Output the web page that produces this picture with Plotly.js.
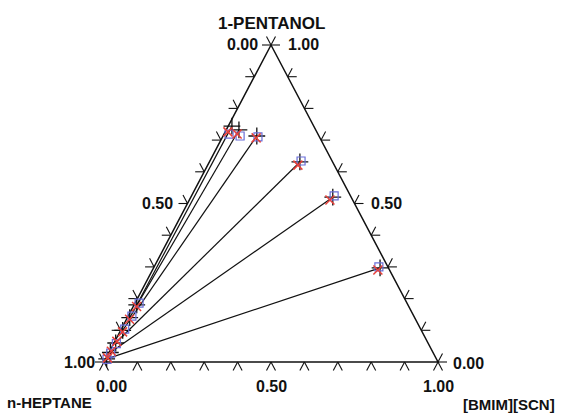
<!DOCTYPE html>
<html>
<head>
<meta charset="utf-8">
<script src="https://cdn.plot.ly/plotly-3.0.1.min.js"></script>
<style>html,body{margin:0;padding:0;background:#fff;}#chart{width:562px;height:414px;}</style>
</head>
<body>
<div id="chart"></div>
<script>
// Ternary data: mole fractions (1-pentanol = p, [BMIM][SCN] = b, n-heptane = 1-p-b)
// Experimental tie-lines (black)
const expExtractPentanol   = [0.297, 0.520, 0.631, 0.713, 0.732, 0.744];
const expExtractBmim       = [0.678, 0.425, 0.271, 0.101, 0.038, 0.011];
const expRaffinatePentanol = [0.010, 0.030, 0.060, 0.100, 0.140, 0.180];
const expRaffinateBmim     = [0.003, 0.004, 0.005, 0.006, 0.007, 0.008];
// Calculated (red, NRTL)
const nrtlExtractPentanol   = [0.290, 0.511, 0.621, 0.707, 0.719, 0.726];
const nrtlExtractBmim       = [0.675, 0.421, 0.270, 0.102, 0.039, 0.008];
const nrtlRaffinatePentanol = [0.013, 0.034, 0.065, 0.095, 0.135, 0.175];
const nrtlRaffinateBmim     = [0.004, 0.005, 0.006, 0.008, 0.009, 0.010];
// Calculated (blue, UNIQUAC)
const uniqExtractPentanol   = [0.300, 0.524, 0.634, 0.710, 0.713, 0.719];
const uniqExtractBmim       = [0.673, 0.427, 0.273, 0.106, 0.051, 0.015];
const uniqRaffinatePentanol = [0.008, 0.028, 0.058, 0.104, 0.145, 0.186];
const uniqRaffinateBmim     = [0.005, 0.006, 0.008, 0.010, 0.011, 0.012];
// Axis tick values and labels
const tickValues = [0, 0.1, 0.2, 0.3, 0.4, 0.5, 0.6, 0.7, 0.8, 0.9, 1.0];
const labelValues = ["0.00", "0.50", "1.00"];
const vertexNames = ["1-PENTANOL", "n-HEPTANE", "[BMIM][SCN]"];

// projection of ternary composition onto the plane of the triangle
const tx = (p, b) => b + 0.5 * p;
const ty = (p) => p;

const traces = [];

// triangle frame
traces.push({
  x: [tx(0,0), tx(0,1), tx(1,0), tx(0,0)],
  y: [ty(0), ty(0), ty(1), ty(0)],
  mode: 'lines', line: {color: '#111', width: 1.5}, hoverinfo: 'skip'
});

// chevron ticks
const s = 0.027;
const tkx = [], tky = [];
function stub(x0, y0, dx, dy) { tkx.push(x0, x0 + dx * s, null); tky.push(y0, y0 + dy * s, null); }
tickValues.forEach(t => {
  let bx = tx(0, t), by = ty(0);
  stub(bx, by, -0.5, -1); stub(bx, by, 0.5, -1);
  let lx = tx(1 - t, 0), ly = ty(1 - t);
  stub(lx, ly, -1, 0); stub(lx, ly, -0.5, 1);
  let rx = tx(t, 1 - t), ry = ty(t);
  stub(rx, ry, 1, 0); stub(rx, ry, 0.5, 1);
});
traces.push({x: tkx, y: tky, mode: 'lines', line: {color: '#111', width: 1.1}, hoverinfo: 'skip'});

// experimental tie-lines
const tlx = [], tly = [];
expExtractPentanol.forEach((p, i) => {
  tlx.push(tx(expRaffinatePentanol[i], expRaffinateBmim[i]), tx(p, expExtractBmim[i]), null);
  tly.push(ty(expRaffinatePentanol[i]), ty(p), null);
});
traces.push({x: tlx, y: tly, mode: 'lines', line: {color: '#111', width: 1.2}, hoverinfo: 'skip'});

function pts(pR, bR, pE, bE) {
  return {
    x: pR.map((p, i) => tx(p, bR[i])).concat(pE.map((p, i) => tx(p, bE[i]))),
    y: pR.map(p => ty(p)).concat(pE.map(p => ty(p)))
  };
}
const e = pts(expRaffinatePentanol, expRaffinateBmim, expExtractPentanol, expExtractBmim);
traces.push({x: e.x, y: e.y, mode: 'markers',
  marker: {symbol: 'cross-thin-open', size: 12, color: '#111', line: {width: 1.3, color: '#111'}}});
const u = pts(uniqRaffinatePentanol, uniqRaffinateBmim, uniqExtractPentanol, uniqExtractBmim);
traces.push({x: u.x, y: u.y, mode: 'markers',
  marker: {symbol: 'square-open', size: 8, color: '#6a6fd8', line: {width: 1.2, color: '#6a6fd8'}}});
const n = pts(nrtlRaffinatePentanol, nrtlRaffinateBmim, nrtlExtractPentanol, nrtlExtractBmim);
traces.push({x: n.x, y: n.y, mode: 'markers',
  marker: {symbol: 'x-thin-open', size: 9, color: '#e8403a', line: {width: 1.5, color: '#e8403a'}}});

const F = {family: 'Liberation Sans, Arial, sans-serif', size: 16, color: '#111', weight: 'bold'};
const Ft = {family: 'Liberation Sans, Arial, sans-serif', size: 17, color: '#111', weight: 'bold'};
const Fs = {family: 'Liberation Sans, Arial, sans-serif', size: 15, color: '#111', weight: 'bold'};
function ann(text, x, y, xa, font) {
  return {text: '<b>' + text + '</b>', x: x, y: y, xref: 'x', yref: 'y', showarrow: false,
          xanchor: xa, yanchor: 'middle', font: font || F};
}
const annotations = [
  ann(vertexNames[0], tx(1,0), 1.068, 'center', Ft),
  ann(labelValues[0], 0.466, 1.003, 'right'),
  ann(labelValues[2], 0.546, 1.003, 'left'),
  ann(labelValues[1], 0.214, 0.499, 'right'),
  ann(labelValues[1], 0.794, 0.499, 'left'),
  ann(labelValues[2], -0.021, -0.003, 'right'),
  ann(labelValues[0], 1.038, -0.006, 'left'),
  ann(labelValues[0], 0.021, -0.078, 'center'),
  ann(labelValues[1], 0.5, -0.078, 'center'),
  ann(labelValues[2], 1.0, -0.078, 'center'),
  ann(vertexNames[1], -0.297, -0.128, 'left', Fs),
  ann(vertexNames[2], 1.357, -0.133, 'right', Fs)
];

const layout = {
  width: 562, height: 414,
  margin: {l: 0, r: 0, t: 0, b: 0},
  paper_bgcolor: '#fff', plot_bgcolor: '#fff',
  showlegend: false,
  xaxis: {range: [-104/334, 458/334], visible: false, fixedrange: true},
  yaxis: {range: [-52/317, 362/317], visible: false, fixedrange: true},
  annotations: annotations
};
Plotly.newPlot('chart', traces, layout, {staticPlot: true, displayModeBar: false});
</script>
</body>
</html>
